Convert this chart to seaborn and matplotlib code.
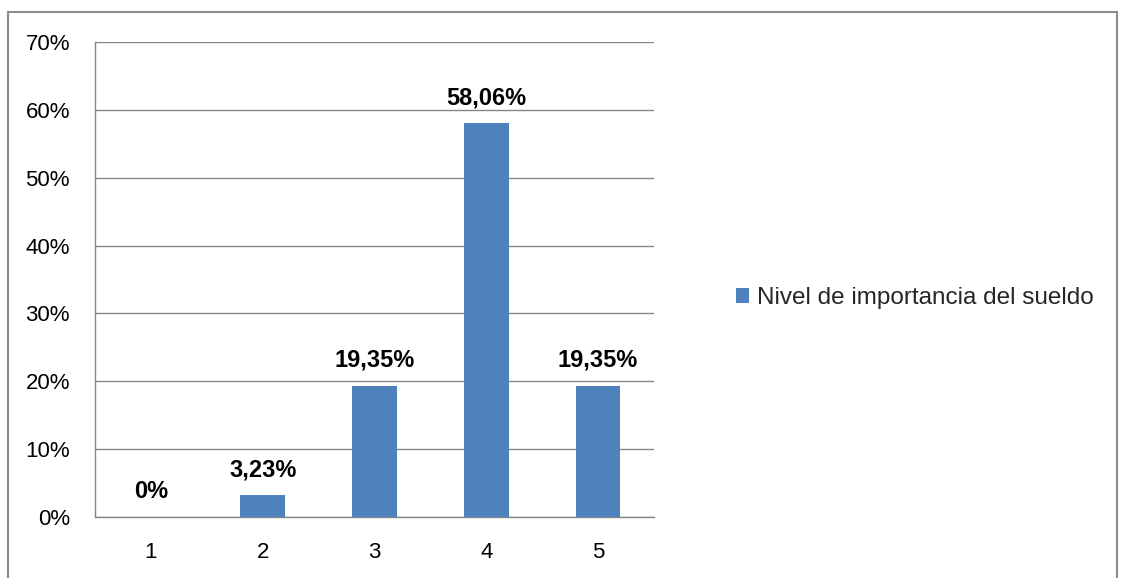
import matplotlib
matplotlib.use("Agg")
import matplotlib.pyplot as plt
from matplotlib.patches import Rectangle
from matplotlib.ticker import FixedLocator, PercentFormatter
import seaborn as sns
import pandas as pd

# Data
categories = ["1", "2", "3", "4", "5"]
values = [0.0, 3.23, 19.35, 58.06, 19.35]
value_labels = ["0%", "3,23%", "19,35%", "58,06%", "19,35%"]
series_name = "Nivel de importancia del sueldo"
y_ticks = [0, 10, 20, 30, 40, 50, 60, 70]

sns.set_style("white")
plt.rcParams["font.family"] = ["Liberation Sans", "DejaVu Sans"]

bar_color = "#4F81BD"
grid_color = "#868686"

df = pd.DataFrame({"nivel": categories, "porcentaje": values})

fig = plt.figure(figsize=(11.24, 5.78), dpi=100)
ax = fig.add_axes([95 / 1124, (578 - 517) / 578, (654 - 95) / 1124, (517 - 42) / 578])

sns.barplot(data=df, x="nivel", y="porcentaje", color=bar_color, width=0.4,
            saturation=1, label=series_name, ax=ax, zorder=3, linewidth=0)

ax.set_xlim(-0.5, len(categories) - 0.5)
ax.set_ylim(0, 70)
ax.set_yticks(y_ticks)
ax.yaxis.set_major_formatter(PercentFormatter(decimals=0))
ax.set_xlabel("")
ax.set_ylabel("")

# Horizontal gridlines
ax.grid(axis="y", color=grid_color, linewidth=1, zorder=0)
ax.grid(axis="x", visible=False)

for side in ["top", "right"]:
    ax.spines[side].set_visible(False)
for side in ["left", "bottom"]:
    ax.spines[side].set_color(grid_color)
    ax.spines[side].set_linewidth(1)

# Tick marks between categories on x; outward marks on y
ax.xaxis.set_minor_locator(FixedLocator([i - 0.5 for i in range(len(categories) + 1)]))
ax.tick_params(axis="x", which="major", length=0, pad=18, labelsize=16, colors="black")
ax.tick_params(axis="x", which="minor", length=7, width=1, color=grid_color, direction="out")
ax.tick_params(axis="y", which="major", length=7, width=1, color=grid_color, direction="out",
               pad=11, labelsize=16, labelcolor="black")

# Value labels above the bars
for i, (v, lab) in enumerate(zip(values, value_labels)):
    ax.annotate(lab, xy=(i, v), xytext=(0, 10), textcoords="offset points",
                ha="center", va="bottom", fontsize=17, fontweight="bold", color="black")

# Legend on the right
ax.legend(loc="center left", bbox_to_anchor=(736 / 1124, (578 - 298) / 578),
          bbox_transform=fig.transFigure, frameon=False, fontsize=17.5,
          handlelength=0.55, handleheight=0.55, handletextpad=0.3, borderpad=0,
          borderaxespad=0)

# Outer chart border
fig.patches.append(Rectangle((8 / 1124, -0.01), (1117 - 8) / 1124, (578 - 12) / 578 + 0.01,
                             transform=fig.transFigure, fill=False,
                             edgecolor="#8c8c8c", linewidth=1.5))

fig.savefig("out.png", dpi=100)
